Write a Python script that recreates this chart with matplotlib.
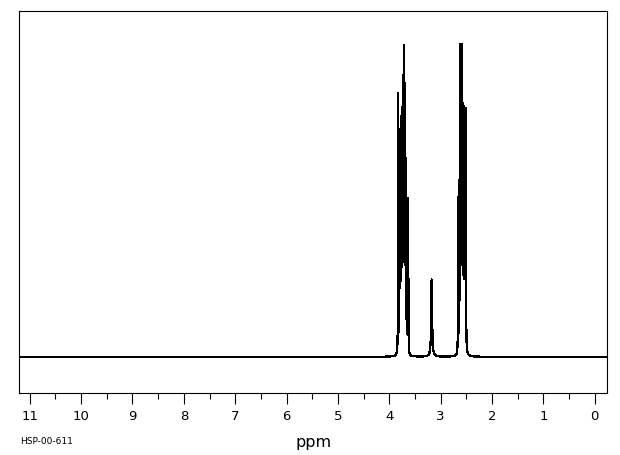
import numpy as np
import matplotlib
matplotlib.use('Agg')
import matplotlib.pyplot as plt
from matplotlib.ticker import MultipleLocator

plt.rcParams['font.family'] = ['DejaVu Sans']

# peak list: position (ppm), amplitude (% of tallest), half width (ppm)
shift_ppm = [3.826, 3.800, 3.788, 3.776, 3.765, 3.754, 3.743, 3.732, 3.722, 3.712,
             3.702, 3.692, 3.682, 3.668, 3.652, 3.631,
             3.174,
             2.658, 2.636, 2.623, 2.611, 2.600, 2.590, 2.580, 2.568, 2.556, 2.544,
             2.532, 2.520, 2.508]
height_pct = [84, 62, 66, 68, 68, 69, 70, 72, 78, 88,
              76, 66, 56, 48, 40, 50,
              25,
              50, 52, 64, 92, 74, 78, 90, 72, 72, 70,
              68, 70, 76]
half_width = [0.003, 0.0025, 0.0025, 0.0025, 0.0025, 0.0025, 0.0025, 0.0025, 0.0025, 0.0025,
              0.0025, 0.0025, 0.0025, 0.0025, 0.0025, 0.003,
              0.010,
              0.003, 0.0025, 0.0025, 0.0025, 0.0025, 0.0025, 0.0025, 0.0025, 0.0025, 0.0025,
              0.0025, 0.0025, 0.003]

ppm = np.arange(-0.3, 11.3, 0.0005)
spec = np.zeros_like(ppm)
for p, h, g in zip(shift_ppm, height_pct, half_width):
    spec += h * g**2 / ((ppm - p)**2 + g**2)

fig = plt.figure(figsize=(6.2, 4.55), dpi=100)
ax = fig.add_axes([19.5/620, 1 - 393/455, (607 - 19.5)/620, (393 - 11)/455])

ax.plot(ppm, spec, color='black', linewidth=0.9, antialiased=False)

ax.set_xlim(11.2, -0.24)
ax.set_ylim(-11.7, 112.0)
ax.xaxis.set_major_locator(MultipleLocator(1))
ax.xaxis.set_minor_locator(MultipleLocator(0.5))
ax.tick_params(axis='x', which='major', direction='out', length=8, width=0.8,
               labelsize=9.5, pad=4)
ax.tick_params(axis='x', which='minor', direction='out', length=4, width=0.8)
ax.set_yticks([])
for s in ax.spines.values():
    s.set_linewidth(0.8)

ax.set_xlabel('ppm', fontsize=11.5, labelpad=9)
fig.text(20/620, 1 - 442/455, 'HSP-00-611', fontsize=6.5, va='center', ha='left')

fig.savefig('out.png', dpi=100)
